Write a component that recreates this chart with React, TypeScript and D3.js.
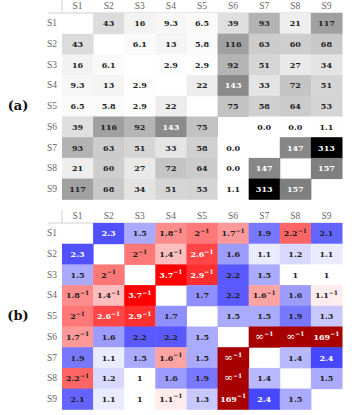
import React, { useEffect, useRef } from 'react'
import * as d3 from 'd3'

const labels = ['S1', 'S2', 'S3', 'S4', 'S5', 'S6', 'S7', 'S8', 'S9']

// panel (a): pairwise counts, '' on the diagonal
const countRows: string[][] = [
  ['', '43', '16', '9.3', '6.5', '39', '93', '21', '117'],
  ['43', '', '6.1', '13', '5.8', '116', '63', '60', '68'],
  ['16', '6.1', '', '2.9', '2.9', '92', '51', '27', '34'],
  ['9.3', '13', '2.9', '', '22', '143', '33', '72', '51'],
  ['6.5', '5.8', '2.9', '22', '', '75', '58', '64', '53'],
  ['39', '116', '92', '143', '75', '', '0.0', '0.0', '1.1'],
  ['93', '63', '51', '33', '58', '0.0', '', '147', '313'],
  ['21', '60', '27', '72', '64', '0.0', '147', '', '157'],
  ['117', '68', '34', '51', '53', '1.1', '313', '157', ''],
]

// panel (b): ratios, '^-1' marks an inverse
const ratioRows: string[][] = [
  ['', '2.3', '1.5', '1.8^-1', '2^-1', '1.7^-1', '1.9', '2.2^-1', '2.1'],
  ['2.3', '', '2^-1', '1.4^-1', '2.6^-1', '1.6', '1.1', '1.2', '1.1'],
  ['1.5', '2^-1', '', '3.7^-1', '2.9^-1', '2.2', '1.5', '1', '1'],
  ['1.8^-1', '1.4^-1', '3.7^-1', '', '1.7', '2.2', '1.6^-1', '1.6', '1.1^-1'],
  ['2^-1', '2.6^-1', '2.9^-1', '1.7', '', '1.5', '1.5', '1.9', '1.3'],
  ['1.7^-1', '1.6', '2.2', '2.2', '1.5', '', '∞^-1', '∞^-1', '169^-1'],
  ['1.9', '1.1', '1.5', '1.6^-1', '1.5', '∞^-1', '', '1.4', '2.4'],
  ['2.2^-1', '1.2', '1', '1.6', '1.9', '∞^-1', '1.4', '', '1.5'],
  ['2.1', '1.1', '1', '1.1^-1', '1.3', '169^-1', '2.4', '1.5', ''],
]

const W = 352
const H = 415
const x0 = 62
const x1 = 342
const rowH = 20.7
const topA = 13
const topB = 223

const App: React.FC = () => {
  const ref = useRef<SVGSVGElement>(null)

  useEffect(() => {
    document.body.style.margin = '0'
    const svg = d3.select(ref.current)
    svg.selectAll('*').remove()

    const x = d3.scaleBand<string>().domain(labels).range([x0, x1])

    const grayScale = d3
      .scaleLinear<string>()
      .domain([0, 313])
      .range(['#ffffff', '#000000'])
      .clamp(true)

    const logMax = Math.log(3.7)
    const ratioT = (s: string) => {
      const inv = s.endsWith('^-1')
      const base = inv ? s.slice(0, -3) : s
      if (base === '∞') return -Infinity
      const v = parseFloat(base)
      const t = Math.log(v) / logMax
      return inv ? -t : t
    }
    const ratioColor = (t: number) => {
      if (t < -1.05) return '#a80000'
      if (t >= 0) return d3.interpolateRgb('#ffffff', '#0000ff')(Math.min(t * 1.08, 1))
      return d3.interpolateRgb('#ffffff', '#ff0000')(Math.min(-t, 1))
    }

    const drawPanel = (
      top: number,
      name: string,
      rows: string[][],
      fill: (s: string) => string,
      light: (s: string) => boolean,
    ) => {
      const y = d3
        .scaleBand<string>()
        .domain(labels)
        .range([top, top + rowH * labels.length])
      const g = svg.append('g')

      // header rules
      g.append('line')
        .attr('x1', 48)
        .attr('x2', x1)
        .attr('y1', top)
        .attr('y2', top)
        .attr('stroke', '#cfcfcf')
        .attr('stroke-width', 1)
      g.append('line')
        .attr('x1', x0)
        .attr('x2', x0)
        .attr('y1', top - 13)
        .attr('y2', top)
        .attr('stroke', '#cfcfcf')
        .attr('stroke-width', 1)

      g.selectAll('.col')
        .data(labels)
        .enter()
        .append('text')
        .attr('x', (d) => x(d)! + x.bandwidth() / 2)
        .attr('y', top - 4)
        .attr('text-anchor', 'middle')
        .attr('font-family', 'Liberation Serif')
        .attr('font-size', 9.5)
        .attr('fill', '#666')
        .text((d) => d)

      g.selectAll('.row')
        .data(labels)
        .enter()
        .append('text')
        .attr('x', 52)
        .attr('y', (d) => y(d)! + y.bandwidth() / 2 + 3)
        .attr('text-anchor', 'middle')
        .attr('font-family', 'Liberation Serif')
        .attr('font-size', 9.5)
        .attr('fill', '#666')
        .text((d) => d)

      const cells = rows.flatMap((r, i) =>
        r.map((s, j) => ({ s, row: labels[i], col: labels[j] })),
      ).filter((c) => c.s !== '')

      g.selectAll('.cell')
        .data(cells)
        .enter()
        .append('rect')
        .attr('x', (d) => x(d.col)!)
        .attr('y', (d) => y(d.row)!)
        .attr('width', x.bandwidth() + 0.5)
        .attr('height', y.bandwidth() + 0.5)
        .attr('fill', (d) => fill(d.s))

      const txt = g
        .selectAll('.val')
        .data(cells)
        .enter()
        .append('text')
        .attr('x', (d) => x(d.col)! + x.bandwidth() / 2)
        .attr('y', (d) => y(d.row)! + y.bandwidth() / 2 + 3)
        .attr('text-anchor', 'middle')
        .attr('font-family', 'DejaVu Serif')
        .attr('font-weight', 'bold')
        .attr('font-size', 8)
        .attr('fill', (d) => (light(d.s) ? '#ffffff' : '#222222'))

      txt.each(function (d) {
        const el = d3.select(this)
        if (d.s.endsWith('^-1')) {
          const base = d.s.slice(0, -3)
          el.append('tspan')
            .attr('font-size', base === '∞' ? 11 : 8)
            .attr('font-weight', base === '∞' ? 'normal' : 'bold')
            .text(base)
          el.append('tspan')
            .attr('dy', -3.5)
            .attr('font-size', 6)
            .text('−1')
        } else {
          el.text(d.s)
        }
      })

      svg.append('text')
        .attr('x', 18)
        .attr('y', top + (rowH * labels.length) / 2 + 4)
        .attr('text-anchor', 'middle')
        .attr('font-family', 'DejaVu Serif')
        .attr('font-weight', 'bold')
        .attr('font-size', 13)
        .attr('fill', '#111')
        .text(name)
    }

    drawPanel(
      topA,
      '(a)',
      countRows,
      (s) => grayScale(parseFloat(s)),
      (s) => parseFloat(s) > 130,
    )
    drawPanel(
      topB,
      '(b)',
      ratioRows,
      (s) => ratioColor(ratioT(s)),
      (s) => Math.abs(ratioT(s)) > 0.62,
    )
  }, [])

  return (
    <svg
      ref={ref}
      width={W}
      height={H}
      style={{ display: 'block', background: '#fff' }}
    ></svg>
  )
}

export default App
